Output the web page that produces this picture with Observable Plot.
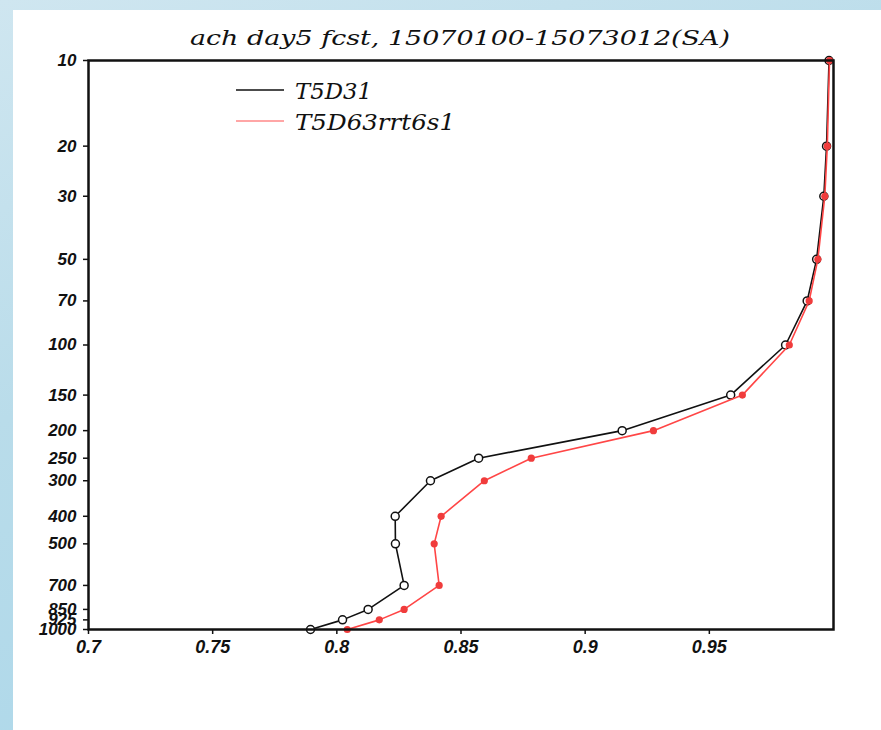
<!DOCTYPE html>
<html>
<head>
<meta charset="utf-8">
<script src="https://cdn.jsdelivr.net/npm/d3@7"></script>
<script src="https://cdn.jsdelivr.net/npm/@observablehq/plot@0.6"></script>
<style>
  html, body { margin: 0; padding: 0; }
  body {
    width: 881px; height: 730px; overflow: hidden; position: relative;
    background: linear-gradient(160deg, #cfe6f0 0%, #b9dcea 40%, #a8d6ea 100%);
  }
  #panel { position: absolute; left: 13px; top: 10px; width: 868px; height: 720px; background: #fff; }
  #chart { position: absolute; left: 0; top: 0; }
  #overlay { position: absolute; left: 0; top: 0; pointer-events: none; }
</style>
</head>
<body>
<div id="panel"></div>
<div id="chart"></div>
<svg id="overlay" width="881" height="730"></svg>
<script>
const title = "ach day5 fcst, 15070100-15073012(SA)";
const seriesNames = ["T5D31", "T5D63rrt6s1"];
const levels = [10, 20, 30, 50, 70, 100, 150, 200, 250, 300, 400, 500, 700, 850, 925, 1000];
const t5d31 = [0.9982, 0.9972, 0.9961, 0.9932, 0.9894, 0.9807, 0.9586, 0.9149, 0.8571, 0.8377, 0.8235, 0.8236, 0.8271, 0.8126, 0.8023, 0.7894];
const t5d63 = [0.9984, 0.9975, 0.9965, 0.9937, 0.9902, 0.9822, 0.9633, 0.9275, 0.8783, 0.8594, 0.8420, 0.8392, 0.8412, 0.8271, 0.8171, 0.8042];
const xTicks = [0.7, 0.75, 0.8, 0.85, 0.9, 0.95];

const dA = levels.map((p, i) => ({p, v: t5d31[i]}));
const dB = levels.map((p, i) => ({p, v: t5d63[i]}));

const tickFont = {fontWeight: "bold", fontStyle: "italic", fontFamily: "Liberation Sans, Arial, sans-serif", fill: "#111"};

const chart = Plot.plot({
  width: 881,
  height: 730,
  marginLeft: 88,
  marginRight: 48,
  marginTop: 60,
  marginBottom: 101,
  style: {background: "transparent", color: "#111", overflow: "visible"},
  x: {domain: [0.7, 1.0]},
  y: {type: "log", domain: [10, 1000], reverse: true},
  marks: [
    Plot.axisX({ticks: xTicks, tickFormat: d => String(d), tickSize: 5, tickPadding: 6, stroke: "#111", strokeWidth: 1.5, label: null, fontSize: 18, ...tickFont}),
    Plot.axisY({ticks: levels, text: null, tickSize: 5, stroke: "#111", strokeWidth: 1.5, label: null}),
    Plot.text(levels, {y: d => d, text: d => String(d), frameAnchor: "left", dx: -12, textAnchor: "end", fontSize: 17, ...tickFont}),
    Plot.line(dA, {x: "v", y: "p", stroke: "#111", strokeWidth: 1.6}),
    Plot.dot(dA, {x: "v", y: "p", r: 4, fill: "#fff", stroke: "#111", strokeWidth: 1.5}),
    Plot.line(dB, {x: "v", y: "p", stroke: "#ff4646", strokeWidth: 1.6}),
    Plot.dot(dB, {x: "v", y: "p", r: 3.6, fill: "#f03c3c", stroke: "none"}),
    Plot.frame({stroke: "#111", strokeWidth: 2.5})
  ]
});
document.getElementById("chart").appendChild(chart);

// Title and legend
const ov = d3.select("#overlay");
ov.append("text")
  .attr("x", 190).attr("y", 45)
  .attr("textLength", 540).attr("lengthAdjust", "spacingAndGlyphs")
  .attr("font-family", "DejaVu Serif, serif").attr("font-style", "italic")
  .attr("font-size", 21).attr("fill", "#111")
  .text(title);

const legendColors = ["#111", "#f88"];
const legendWidths = [77, 160];
seriesNames.forEach((name, i) => {
  const y = 90 + i * 31;
  ov.append("line").attr("x1", 236).attr("x2", 284).attr("y1", y).attr("y2", y)
    .attr("stroke", legendColors[i]).attr("stroke-width", 1.5);
  ov.append("text")
    .attr("x", 295).attr("y", y + 9)
    .attr("textLength", legendWidths[i]).attr("lengthAdjust", "spacingAndGlyphs")
    .attr("font-family", "DejaVu Serif, serif").attr("font-style", "italic")
    .attr("font-size", 22).attr("fill", "#111")
    .text(name);
});
</script>
</body>
</html>
